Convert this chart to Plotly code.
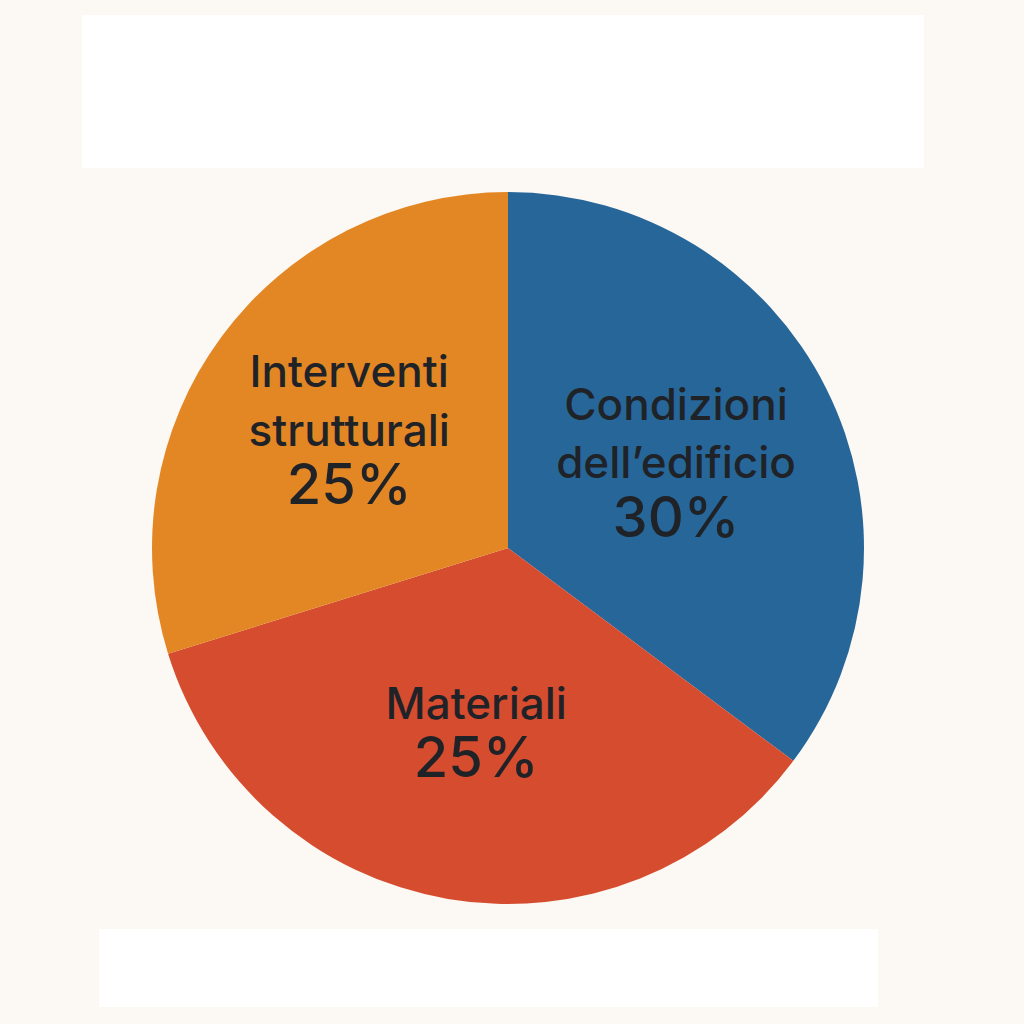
import plotly.graph_objects as go

categories = ["Condizioni dell’edificio", "Materiali", "Interventi strutturali"]
label_lines = ["Condizioni<br>dell’edificio", "Materiali", "Interventi<br>strutturali"]
printed_pct = ["30%", "25%", "25%"]
slice_shares = [35.2, 35.0, 29.8]
colors = ["#276699", "#D64C2F", "#E38725"]

BG = "#FCF8F3"
INK = "#1F2328"

texts = [
    f"<span style='font-size:44px'>{name}</span><br><span style='font-size:56px'>{pct}</span>"
    for name, pct in zip(label_lines, printed_pct)
]

fig = go.Figure()
fig.add_trace(go.Pie(
    labels=categories,
    values=slice_shares,
    text=texts,
    textinfo="text",
    textposition="inside",
    insidetextorientation="horizontal",
    # base size sets the line spacing between the label lines
    textfont=dict(family="Inter, Lato, sans-serif", size=45, color=INK, weight=500),
    marker=dict(colors=colors, line=dict(width=0)),
    sort=False,
    direction="clockwise",
    rotation=0,
    hole=0,
    showlegend=False,
    hoverinfo="skip",
    domain=dict(x=[151 / 1024, 865 / 1024], y=[1 - 904 / 1024, 1 - 192 / 1024]),
))

# empty white panels above and below the pie
fig.add_shape(type="rect", xref="paper", yref="paper", x0=82 / 1024, x1=924 / 1024,
              y0=1 - 168 / 1024, y1=1 - 15 / 1024, fillcolor="white", line=dict(width=0), layer="below")
fig.add_shape(type="rect", xref="paper", yref="paper", x0=99 / 1024, x1=878 / 1024,
              y0=1 - 1007 / 1024, y1=1 - 929 / 1024, fillcolor="white", line=dict(width=0), layer="below")

fig.update_layout(
    width=1024, height=1024,
    margin=dict(l=0, r=0, t=0, b=0),
    paper_bgcolor=BG, plot_bgcolor=BG,
)

# drop the browser's default body margin so the cream background reaches the edges
fig.write_html(
    "out.html",
    config={"displayModeBar": False},
    post_script="document.body.style.margin='0';document.body.style.background='#FCF8F3';",
)
